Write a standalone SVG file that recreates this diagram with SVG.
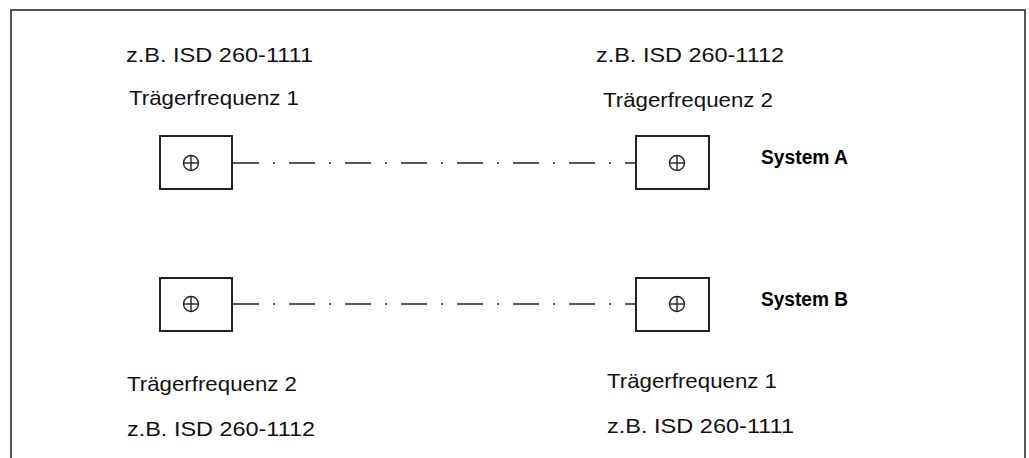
<svg xmlns="http://www.w3.org/2000/svg" width="1029" height="458" viewBox="0 0 1029 458">
  <style>
    .frame { fill: none; stroke: #555; stroke-width: 2; }
    .box { fill: #fff; stroke: #222; stroke-width: 2; }
    .mark { fill: none; stroke: #222; stroke-width: 1.4; }
    .beam { stroke: #222; stroke-width: 1.6; stroke-dasharray: 26 14 2 14; fill: none; }
    .lbl { font-family: "Liberation Sans", Arial, sans-serif; font-size: 21px; fill: #111; }
    .sys { font-family: "Liberation Sans", Arial, sans-serif; font-size: 20px; font-weight: bold; fill: #000; }
  </style>
  <defs>
    <g id="cross">
      <circle cx="0" cy="0" r="7.5" class="mark"/>
      <line x1="-7.5" y1="0" x2="7.5" y2="0" class="mark"/>
      <line x1="0" y1="-7.5" x2="0" y2="7.5" class="mark"/>
    </g>
  </defs>
  <rect width="1029" height="458" fill="#fff"/>
  <!-- open frame: left, top and right edges -->
  <path class="frame" d="M11 458 V10 H1025 V458"/>

  <g id="connectors">
    <line class="beam" x1="233" y1="163" x2="636" y2="163"/>
    <line class="beam" x1="233" y1="304" x2="636" y2="304"/>
  </g>

  <g id="sender-a">
    <rect class="box" x="160" y="136" width="72" height="53"/>
    <use href="#cross" x="191" y="163"/>
  </g>
  <g id="receiver-a">
    <rect class="box" x="636" y="136" width="73" height="53"/>
    <use href="#cross" x="677" y="163"/>
  </g>
  <g id="sender-b">
    <rect class="box" x="160" y="278" width="72" height="53"/>
    <use href="#cross" x="191" y="304"/>
  </g>
  <g id="receiver-b">
    <rect class="box" x="636" y="278" width="73" height="53"/>
    <use href="#cross" x="677" y="304"/>
  </g>

  <g id="labels">
    <text class="lbl" x="126" y="62" textLength="187" lengthAdjust="spacingAndGlyphs">z.B. ISD 260-1111</text>
    <text class="lbl" x="129" y="105" textLength="170" lengthAdjust="spacingAndGlyphs">Trägerfrequenz 1</text>
    <text class="lbl" x="596" y="62" textLength="188" lengthAdjust="spacingAndGlyphs">z.B. ISD 260-1112</text>
    <text class="lbl" x="603" y="107" textLength="170" lengthAdjust="spacingAndGlyphs">Trägerfrequenz 2</text>
    <text class="sys" x="761" y="164" textLength="87" lengthAdjust="spacingAndGlyphs">System A</text>
    <text class="sys" x="761" y="306" textLength="87" lengthAdjust="spacingAndGlyphs">System B</text>
    <text class="lbl" x="127" y="391" textLength="170" lengthAdjust="spacingAndGlyphs">Trägerfrequenz 2</text>
    <text class="lbl" x="127" y="436" textLength="188" lengthAdjust="spacingAndGlyphs">z.B. ISD 260-1112</text>
    <text class="lbl" x="607" y="388" textLength="170" lengthAdjust="spacingAndGlyphs">Trägerfrequenz 1</text>
    <text class="lbl" x="607" y="433" textLength="187" lengthAdjust="spacingAndGlyphs">z.B. ISD 260-1111</text>
  </g>
</svg>
